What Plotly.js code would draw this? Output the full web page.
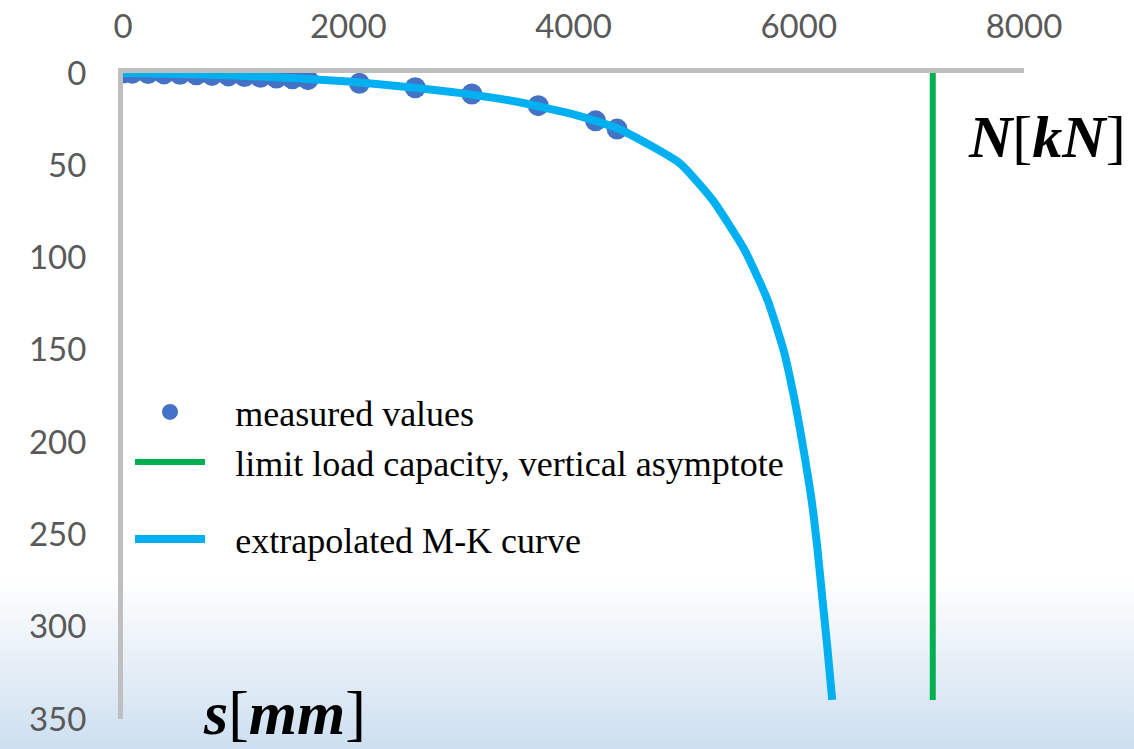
<!DOCTYPE html>
<html>
<head>
<meta charset="utf-8">
<script src="https://cdn.plot.ly/plotly-3.0.1.min.js"></script>
<style>
  html, body { margin: 0; padding: 0; }
  #wrap { width: 1134px; height: 749px;
    background: linear-gradient(to bottom, #ffffff 0px, #ffffff 580px, #f3f7fb 620px, #cddff0 749px); }
  #chart { width: 1134px; height: 749px; }
</style>
</head>
<body>
<div id="wrap"><div id="chart"></div></div>
<script>
// Measured values (load N [kN], settlement s [mm])
const measuredN = [0, 83, 222, 364, 506, 651, 790, 936, 1078, 1220, 1362, 1504, 1642, 2099, 2595, 3097, 3687, 4196, 4387];
const measuredS = [0, 0.1, 0.3, 0.5, 0.7, 1.0, 1.3, 1.6, 1.9, 2.3, 2.7, 3.1, 3.6, 5.6, 8.0, 11.4, 17.7, 25.9, 30.4];

// Extrapolated M-K curve
const curveN = [0, 500, 1000, 1500, 2000, 2500, 3000, 3500, 4000, 4400, 4942, 5235, 5519, 5723, 5865, 5963, 6043, 6114, 6167, 6211, 6256, 6297];
const curveS = [0, 0.6, 1.4, 2.7, 4.6, 7.4, 10.9, 15.6, 22.4, 30.2, 48.8, 68.8, 95.9, 123.0, 150.1, 177.2, 204.3, 231.4, 258.4, 285.5, 312.6, 339.7];

// Limit load capacity (vertical asymptote)
const limitN = [7190, 7190];
const limitS = [0, 339.7];

const xTicks = [0, 2000, 4000, 6000, 8000];
const yTicks = [0, 50, 100, 150, 200, 250, 300, 350];

const gap = '\u2002\u2009';
const traces = [
  { x: measuredN, y: measuredS, type: 'scatter', mode: 'markers', name: gap + 'measured values',
    marker: { color: '#4472C4', size: 21 }, legend: 'legend' },
  { x: measuredN.slice(13), y: measuredS.slice(13), type: 'scatter', mode: 'lines', showlegend: false,
    line: { color: '#1a1a1a', width: 1 } },
  { x: curveN, y: curveS, type: 'scatter', mode: 'lines', name: gap + 'extrapolated M-K curve',
    line: { color: '#00B0F0', width: 8, shape: 'spline', smoothing: 0.5 }, legend: 'legend3' },
  { x: limitN, y: limitS, type: 'scatter', mode: 'lines', name: gap + 'limit load capacity, vertical asymptote',
    line: { color: '#00B050', width: 6 }, legend: 'legend2' }
];

const legFont = { family: 'Liberation Serif, serif', size: 36, color: '#000000' };
const legBase = { xanchor: 'left', yanchor: 'middle', bgcolor: 'rgba(0,0,0,0)', borderwidth: 0,
  font: legFont, itemwidth: 70, itemclick: false, itemdoubleclick: false };

const layout = {
  width: 1134, height: 749,
  margin: { l: 123, r: 110, t: 73, b: 30, pad: 0 },
  paper_bgcolor: 'rgba(0,0,0,0)',
  plot_bgcolor: 'rgba(0,0,0,0)',
  showlegend: true,
  xaxis: {
    side: 'top', range: [0, 8000], tickvals: xTicks, ticktext: xTicks.map(String),
    showgrid: false, zeroline: false, showline: true, linecolor: '#BFBFBF', linewidth: 5,
    ticks: '', ticklabelstandoff: 17,
    tickfont: { family: 'Lato, sans-serif', size: 33, color: '#595959' }
  },
  yaxis: {
    range: [350, 0], tickvals: yTicks, ticktext: yTicks.map(String),
    showgrid: false, zeroline: false, showline: true, linecolor: '#BFBFBF', linewidth: 5,
    ticks: '', ticklabelstandoff: 25,
    tickfont: { family: 'Lato, sans-serif', size: 33, color: '#595959' }
  },
  legend: Object.assign({}, legBase, { x: 7 / 901, y: (719 - 412) / 646 }),
  legend2: Object.assign({}, legBase, { x: 7 / 901, y: (719 - 462) / 646 }),
  legend3: Object.assign({}, legBase, { x: 7 / 901, y: (719 - 539) / 646 }),
  annotations: [
    { xref: 'paper', yref: 'paper', x: (1047 - 123) / 901, y: (719 - 137) / 646, showarrow: false,
      xanchor: 'center', yanchor: 'middle', text: '<b><i>N</i></b>[<b><i>kN</i></b>]',
      font: { family: 'Liberation Serif, serif', size: 60, color: '#000000' } },
    { xref: 'paper', yref: 'paper', x: (284 - 123) / 901, y: (719 - 713) / 646, showarrow: false,
      xanchor: 'center', yanchor: 'middle', text: '<b><i>s</i></b>[<b><i>mm</i></b>]',
      font: { family: 'Liberation Serif, serif', size: 62, color: '#000000' } }
  ]
};

Plotly.newPlot('chart', traces, layout, { staticPlot: true, displayModeBar: false });
</script>
</body>
</html>
